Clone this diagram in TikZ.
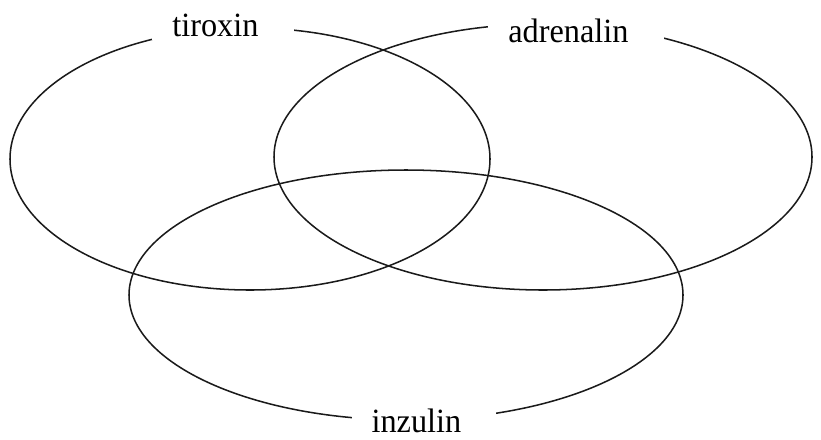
\documentclass[tikz,border=0pt]{standalone}
\usepackage{fontspec}
\setmainfont{Liberation Serif}[FakeStretch=0.95]
\usetikzlibrary{positioning}
\definecolor{vnline}{HTML}{1A1A1A}
\tikzstyle{vnset}=[draw=vnline,line width=1.3pt]
\tikzstyle{vnlabel}=[fill=white,text=black,font=\fontsize{29}{31}\selectfont,anchor=base,
  inner xsep=17pt,inner ysep=3pt,execute at end node={\hspace{13pt}}]

\begin{document}
\begin{tikzpicture}[x=0.03cm,y=-0.03cm]
    \useasboundingbox (0,0) rectangle (821,439);
    \draw[vnset] (250,159) ellipse [x radius=240,y radius=131];
    \draw[vnset] (543,157) ellipse [x radius=269,y radius=133];
    \draw[vnset] (406,295) ellipse [x radius=277,y radius=125];
    \node[vnlabel] (tiroxin) at (223,36) {tiroxin};
    \node[vnlabel] (adrenalin) at (576,42) {adrenalin};
    \node[vnlabel] (inzulin) at (424,432) {inzulin};
  \end{tikzpicture}
\end{document}
